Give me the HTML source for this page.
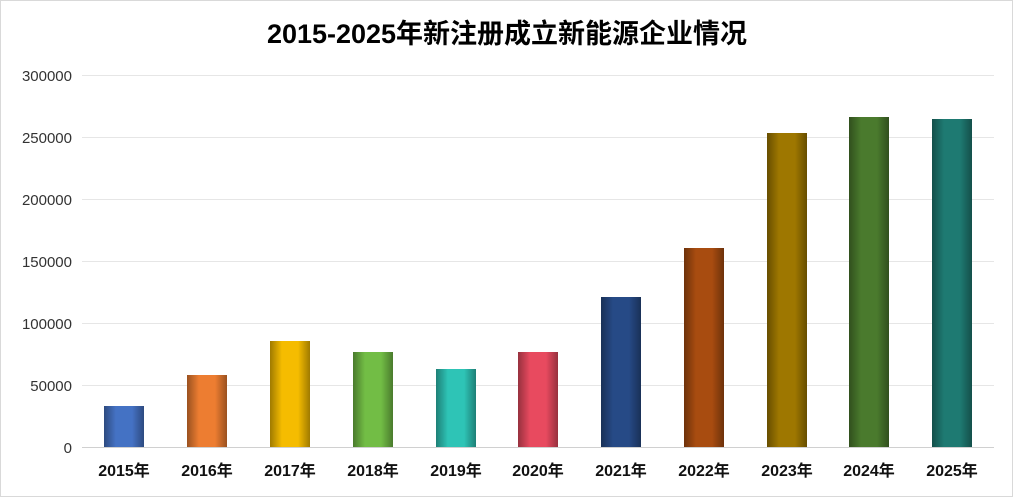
<!DOCTYPE html>
<html><head><meta charset="utf-8"><style>
body{margin:0;background:#fff;}
svg{display:block;font-family:"Liberation Sans","Noto Sans CJK SC",sans-serif;}
</style></head><body>
<svg width="1013" height="497" viewBox="0 0 1013 497">
<defs>
<linearGradient id="sh" x1="0" x2="1" y1="0" y2="0">
<stop offset="0" stop-color="#000" stop-opacity="0.35"/>
<stop offset="0.3" stop-color="#000" stop-opacity="0"/>
<stop offset="0.7" stop-color="#000" stop-opacity="0"/>
<stop offset="1" stop-color="#000" stop-opacity="0.35"/>
</linearGradient>
</defs>
<rect x="0.5" y="0.5" width="1012" height="496" fill="#fff" stroke="#d9d9d9"/>
<text x="507" y="43" text-anchor="middle" font-size="27" font-weight="bold" fill="#000">2015-2025年新注册成立新能源企业情况</text>
<g stroke="#e6e6e6" stroke-width="1">
<line x1="82" x2="994" y1="75.5" y2="75.5"/>
<line x1="82" x2="994" y1="137.5" y2="137.5"/>
<line x1="82" x2="994" y1="199.5" y2="199.5"/>
<line x1="82" x2="994" y1="261.5" y2="261.5"/>
<line x1="82" x2="994" y1="323.5" y2="323.5"/>
<line x1="82" x2="994" y1="385.5" y2="385.5"/>
</g>
<line x1="82" x2="994" y1="447.5" y2="447.5" stroke="#d0d0d0"/>
<g font-size="15" fill="#333" text-anchor="end">
<text x="72" y="81">300000</text>
<text x="72" y="143">250000</text>
<text x="72" y="205">200000</text>
<text x="72" y="267">150000</text>
<text x="72" y="329">100000</text>
<text x="72" y="391">50000</text>
<text x="72" y="453">0</text>
</g>
<g>
<rect x="104" y="406" width="40" height="41" fill="#4472C4"/><rect x="104" y="406" width="40" height="41" fill="url(#sh)"/>
<rect x="187" y="375" width="40" height="72" fill="#ED7D31"/><rect x="187" y="375" width="40" height="72" fill="url(#sh)"/>
<rect x="270" y="341" width="40" height="106" fill="#F5BC00"/><rect x="270" y="341" width="40" height="106" fill="url(#sh)"/>
<rect x="353" y="352" width="40" height="95" fill="#72BD45"/><rect x="353" y="352" width="40" height="95" fill="url(#sh)"/>
<rect x="436" y="369" width="40" height="78" fill="#2EC4B6"/><rect x="436" y="369" width="40" height="78" fill="url(#sh)"/>
<rect x="518" y="352" width="40" height="95" fill="#E84A5F"/><rect x="518" y="352" width="40" height="95" fill="url(#sh)"/>
<rect x="601" y="297" width="40" height="150" fill="#264A86"/><rect x="601" y="297" width="40" height="150" fill="url(#sh)"/>
<rect x="684" y="248" width="40" height="199" fill="#A84C10"/><rect x="684" y="248" width="40" height="199" fill="url(#sh)"/>
<rect x="767" y="133" width="40" height="314" fill="#9E7700"/><rect x="767" y="133" width="40" height="314" fill="url(#sh)"/>
<rect x="849" y="117" width="40" height="330" fill="#4A7A2D"/><rect x="849" y="117" width="40" height="330" fill="url(#sh)"/>
<rect x="932" y="119" width="40" height="328" fill="#1E7A72"/><rect x="932" y="119" width="40" height="328" fill="url(#sh)"/>
</g>
<g font-size="16" font-weight="bold" fill="#111" text-anchor="middle">
<text x="124" y="476">2015年</text>
<text x="207" y="476">2016年</text>
<text x="290" y="476">2017年</text>
<text x="373" y="476">2018年</text>
<text x="456" y="476">2019年</text>
<text x="538" y="476">2020年</text>
<text x="621" y="476">2021年</text>
<text x="704" y="476">2022年</text>
<text x="787" y="476">2023年</text>
<text x="869" y="476">2024年</text>
<text x="952" y="476">2025年</text>
</g>
</svg>
</body></html>
